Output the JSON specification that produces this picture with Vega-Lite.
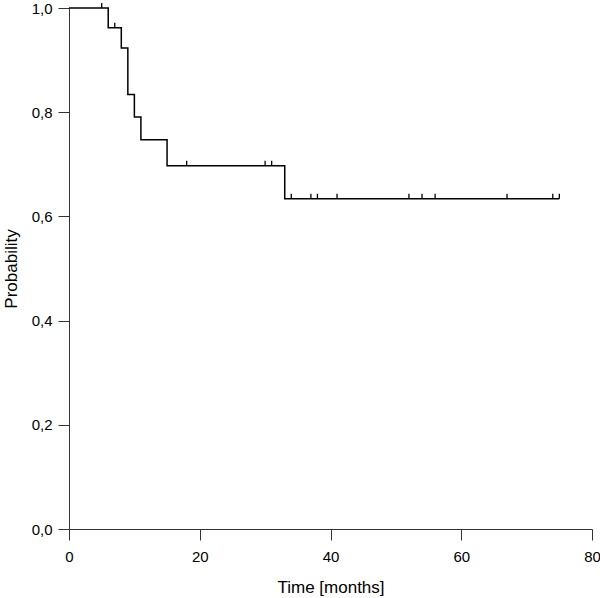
{
  "$schema": "https://vega.github.io/schema/vega-lite/v6.json",
  "width": 523,
  "height": 521,
  "autosize": {"type": "none"},
  "padding": {"left": 69, "top": 8, "right": 8, "bottom": 69},
  "background": "white",
  "config": {
    "view": {"stroke": null},
    "font": "Liberation Sans",
    "axis": {
      "grid": false,
      "domainColor": "#333333",
      "tickColor": "#333333",
      "labelColor": "#000000",
      "titleColor": "#000000",
      "labelFont": "Liberation Sans",
      "titleFont": "Liberation Sans",
      "labelFontSize": 15,
      "titleFontSize": 17,
      "titleFontWeight": "normal",
      "tickSize": 11
    }
  },
  "datasets": {
    "curve": [
      {"time": 0, "prob": 1.0},
      {"time": 6, "prob": 0.962},
      {"time": 8, "prob": 0.923},
      {"time": 9, "prob": 0.834},
      {"time": 10, "prob": 0.791},
      {"time": 11, "prob": 0.747},
      {"time": 15, "prob": 0.697},
      {"time": 33, "prob": 0.634},
      {"time": 75, "prob": 0.634}
    ],
    "censored": [
      {"time": 5, "prob": 1.0},
      {"time": 7, "prob": 0.962},
      {"time": 18, "prob": 0.697},
      {"time": 30, "prob": 0.697},
      {"time": 31, "prob": 0.697},
      {"time": 34, "prob": 0.634},
      {"time": 37, "prob": 0.634},
      {"time": 38, "prob": 0.634},
      {"time": 41, "prob": 0.634},
      {"time": 52, "prob": 0.634},
      {"time": 54, "prob": 0.634},
      {"time": 56, "prob": 0.634},
      {"time": 67, "prob": 0.634},
      {"time": 74, "prob": 0.634},
      {"time": 75, "prob": 0.634}
    ]
  },
  "encoding": {
    "x": {
      "field": "time",
      "type": "quantitative",
      "scale": {"domain": [0, 80], "nice": false, "zero": false},
      "axis": {
        "values": [0, 20, 40, 60, 80],
        "title": "Time [months]",
        "labelPadding": 9,
        "titlePadding": 15,
        "labelFlush": false
      }
    },
    "y": {
      "field": "prob",
      "type": "quantitative",
      "scale": {"domain": [0, 1], "nice": false},
      "axis": {
        "values": [0, 0.2, 0.4, 0.6, 0.8, 1.0],
        "labelExpr": "replace(format(datum.value, '.1f'), '.', ',')",
        "title": "Probability",
        "labelPadding": 6,
        "titlePadding": 11,
        "labelFlush": false
      }
    }
  },
  "layer": [
    {
      "data": {"name": "curve"},
      "mark": {"type": "line", "interpolate": "step-after", "color": "#000000", "strokeWidth": 1.5}
    },
    {
      "data": {"name": "censored"},
      "mark": {
        "type": "point",
        "shape": "M0,0L0,-1",
        "size": 100,
        "filled": false,
        "stroke": "#000000",
        "strokeWidth": 1.3,
        "opacity": 1
      }
    }
  ]
}
